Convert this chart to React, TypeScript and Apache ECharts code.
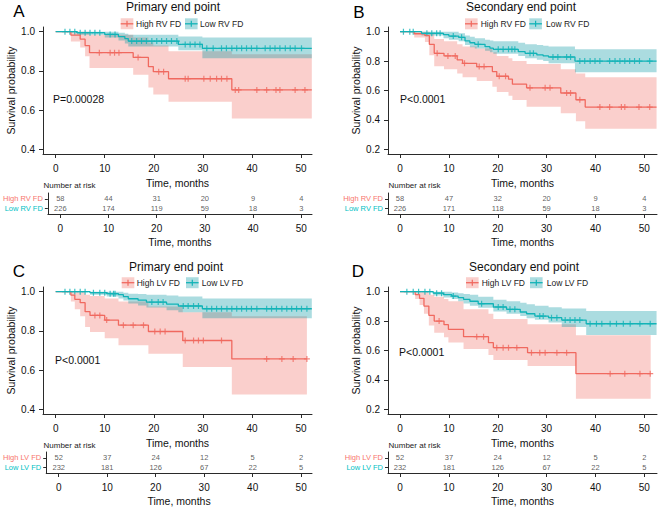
import React, { useEffect, useRef } from 'react';
import * as echarts from 'echarts';

// ---------- shared ticks ----------
const xTicks = [0, 10, 20, 30, 40, 50];
const yTicksPrimary = [0.4, 0.6, 0.8, 1.0];
const yTicksSecondary = [0.2, 0.4, 0.6, 0.8, 1.0];

// ---------- Panel A : Primary end point, RV FD ----------
const aHighTime = [0, 3.1, 5.0, 6.0, 6.9, 15.8, 18.9, 19.9, 23.0, 35.9, 52.2];
const aHighSurv = [1, 0.983, 0.962, 0.929, 0.893, 0.869, 0.822, 0.796, 0.76, 0.703, 0.703];
const aHighLower = [1, 0.95, 0.92, 0.875, 0.815, 0.78, 0.715, 0.68, 0.643, 0.557, 0.557];
const aHighUpper = [1, 1, 1, 1, 0.985, 0.97, 0.945, 0.93, 0.9, 0.885, 0.885];
const aHighCensor = [8.9, 11.1, 12.0, 12.9, 16.8, 21.0, 22.0, 26.4, 27.0, 30.2, 31.5, 32.8, 33.8, 34.9, 36.6, 37.3, 41.0, 43.0, 44.9, 45.7, 48.8, 50.8];
const aLowTime = [0, 4.3, 10.0, 12.8, 14.1, 14.8, 25.0, 29.9, 52.2];
const aLowSurv = [1, 0.995, 0.986, 0.975, 0.965, 0.952, 0.935, 0.915, 0.915];
const aLowLower = [1, 0.985, 0.97, 0.955, 0.94, 0.925, 0.905, 0.865, 0.865];
const aLowUpper = [1, 1, 1, 0.995, 0.99, 0.985, 0.975, 0.97, 0.97];
const aLowCensor = [1.9, 2.9, 3.9, 5.0, 6.0, 7.0, 8.0, 9.0, 11.1, 12.1, 15.5, 16.5, 17.5, 18.5, 19.6, 20.6, 21.6, 22.6, 23.6, 24.7, 26.4, 27.4, 28.4, 29.4, 30.8, 32.1, 33.8, 34.8, 35.9, 36.9, 37.9, 38.9, 39.9, 41.0, 42.7, 43.7, 44.7, 45.7, 46.8, 47.8, 48.8, 50.1];
const aRiskHigh = [58, 44, 31, 20, 9, 4];
const aRiskLow = [226, 174, 119, 59, 18, 3];

// ---------- Panel B : Secondary end point, RV FD ----------
const bHighTime = [0, 2.9, 5.1, 6.0, 7.0, 9.0, 11.7, 12.8, 15.7, 18.9, 19.8, 22.2, 23.0, 25.9, 32.9, 36.0, 37.9, 52.5];
const bHighSurv = [1, 0.986, 0.973, 0.914, 0.853, 0.835, 0.808, 0.785, 0.763, 0.729, 0.697, 0.677, 0.643, 0.618, 0.583, 0.537, 0.487, 0.487];
const bHighLower = [1, 0.96, 0.93, 0.84, 0.765, 0.745, 0.715, 0.69, 0.665, 0.625, 0.59, 0.565, 0.535, 0.49, 0.445, 0.39, 0.34, 0.34];
const bHighUpper = [1, 1, 1, 0.99, 0.95, 0.935, 0.915, 0.9, 0.885, 0.86, 0.835, 0.82, 0.8, 0.78, 0.745, 0.715, 0.69, 0.69];
const bHighCensor = [7.6, 9.8, 11.3, 13.2, 16.2, 17.2, 20.3, 21.6, 26.6, 29.7, 30.7, 34.1, 34.9, 36.8, 40.9, 42.9, 45.3, 46.0, 48.9, 51.1];
const bLowTime = [0, 4.4, 8.9, 10.0, 12.0, 13.3, 14.3, 15.3, 17.4, 18.4, 19.1, 24.2, 25.6, 28.0, 29.3, 30.4, 35.8, 52.5];
const bLowSurv = [1, 0.989, 0.98, 0.97, 0.962, 0.937, 0.925, 0.914, 0.898, 0.888, 0.88, 0.864, 0.853, 0.842, 0.835, 0.828, 0.8, 0.8];
const bLowLower = [1, 0.975, 0.955, 0.945, 0.935, 0.91, 0.895, 0.885, 0.87, 0.86, 0.85, 0.835, 0.82, 0.81, 0.8, 0.785, 0.725, 0.725];
const bLowUpper = [1, 1, 1, 1, 0.99, 0.975, 0.965, 0.955, 0.945, 0.94, 0.935, 0.925, 0.915, 0.91, 0.905, 0.9, 0.88, 0.88];
const bLowCensor = [0.7, 2.0, 2.7, 5.5, 6.5, 7.5, 8.2, 10.9, 12.6, 16.0, 20.1, 21.1, 22.2, 22.9, 23.5, 26.6, 27.3, 31.3, 32.3, 34.1, 34.9, 36.8, 37.8, 38.9, 39.9, 40.9, 42.9, 44.0, 45.0, 46.0, 47.0, 48.0, 49.0, 51.1];
const bRiskHigh = [58, 47, 32, 20, 9, 4];
const bRiskLow = [226, 171, 118, 59, 18, 3];

// ---------- Panel C : Primary end point, LV FD ----------
const cHighTime = [0, 3.1, 3.9, 5.0, 6.0, 7.0, 10.0, 12.8, 18.9, 25.9, 35.9, 51.2];
const cHighSurv = [1, 0.983, 0.961, 0.944, 0.898, 0.879, 0.855, 0.829, 0.797, 0.751, 0.657, 0.657];
const cHighLower = [1, 0.95, 0.91, 0.875, 0.82, 0.795, 0.762, 0.727, 0.683, 0.616, 0.475, 0.475];
const cHighUpper = [1, 1, 1, 1, 0.985, 0.978, 0.965, 0.95, 0.925, 0.895, 0.875, 0.875];
const cHighCensor = [8.0, 9.0, 10.4, 13.8, 15.8, 17.9, 20.2, 21.3, 22.3, 26.4, 28.1, 29.1, 30.1, 33.8, 43.0, 46.1, 48.4, 51.2];
const cLowTime = [0, 7.0, 10.4, 12.8, 13.8, 14.8, 16.8, 18.5, 22.6, 25.0, 29.9, 52.2];
const cLowSurv = [1, 0.995, 0.99, 0.985, 0.975, 0.964, 0.957, 0.947, 0.937, 0.927, 0.913, 0.913];
const cLowLower = [1, 0.985, 0.975, 0.965, 0.955, 0.94, 0.93, 0.92, 0.905, 0.895, 0.865, 0.865];
const cLowUpper = [1, 1, 1, 1, 0.995, 0.99, 0.988, 0.985, 0.98, 0.975, 0.965, 0.965];
const cLowCensor = [1.9, 2.9, 3.9, 5.0, 6.0, 7.7, 9.0, 10.0, 11.1, 11.8, 12.1, 19.6, 20.9, 21.9, 26.0, 27.0, 28.1, 29.1, 30.8, 31.8, 32.8, 33.8, 34.9, 35.9, 36.9, 37.9, 38.9, 39.9, 41.0, 43.0, 44.0, 45.0, 46.1, 47.1, 48.1, 49.1, 50.1, 51.2];
const cRiskHigh = [52, 37, 24, 12, 5, 2];
const cRiskLow = [232, 181, 126, 67, 22, 5];

// ---------- Panel D : Secondary end point, LV FD ----------
const dHighTime = [0, 3.1, 4.0, 4.9, 5.9, 7.0, 9.0, 9.9, 13.0, 18.1, 19.1, 26.1, 36.0, 51.3];
const dHighSurv = [1, 0.98, 0.955, 0.902, 0.839, 0.8, 0.776, 0.744, 0.694, 0.653, 0.619, 0.585, 0.442, 0.442];
const dHighLower = [1, 0.95, 0.91, 0.85, 0.77, 0.72, 0.69, 0.655, 0.61, 0.57, 0.535, 0.494, 0.272, 0.272];
const dHighUpper = [1, 1, 1, 1, 0.98, 0.965, 0.95, 0.935, 0.88, 0.85, 0.815, 0.778, 0.703, 0.703];
const dHighCensor = [8.0, 15.7, 17.1, 19.8, 21.1, 22.2, 23.9, 26.9, 28.6, 29.7, 32.1, 34.1, 43.0, 46.0, 49.1, 51.2];
const dLowTime = [0, 6.8, 8.9, 10.6, 11.9, 13.0, 14.3, 16.0, 19.1, 21.8, 24.6, 25.9, 27.6, 30.4, 33.1, 38.1, 52.5];
const dLowSurv = [1, 0.99, 0.98, 0.97, 0.96, 0.948, 0.935, 0.918, 0.896, 0.88, 0.862, 0.85, 0.834, 0.823, 0.807, 0.782, 0.782];
const dLowLower = [1, 0.975, 0.96, 0.95, 0.935, 0.92, 0.905, 0.89, 0.865, 0.85, 0.835, 0.82, 0.81, 0.79, 0.76, 0.705, 0.705];
const dLowUpper = [1, 1, 1, 0.995, 0.99, 0.985, 0.98, 0.965, 0.945, 0.935, 0.925, 0.915, 0.905, 0.895, 0.885, 0.868, 0.868];
const dLowCensor = [1.4, 2.7, 3.8, 5.1, 6.1, 7.5, 8.5, 10.9, 16.7, 20.1, 21.1, 22.5, 23.5, 28.6, 29.3, 31.0, 32.1, 33.8, 34.8, 35.8, 36.8, 38.9, 40.2, 41.3, 43.0, 44.3, 45.7, 47.1, 49.1, 51.2];
const dRiskHigh = [52, 37, 24, 12, 5, 2];
const dRiskLow = [232, 181, 126, 67, 22, 5];

// ---------- panel content ----------
const panels = [
  { letter: 'A', title: 'Primary end point', pval: 'P=0.00028', highName: 'High RV FD', lowName: 'Low RV FD', yTicks: yTicksPrimary,
    high: { time: aHighTime, surv: aHighSurv, lower: aHighLower, upper: aHighUpper, censor: aHighCensor },
    low: { time: aLowTime, surv: aLowSurv, lower: aLowLower, upper: aLowUpper, censor: aLowCensor },
    riskHigh: aRiskHigh, riskLow: aRiskLow },
  { letter: 'B', title: 'Secondary end point', pval: 'P<0.0001', highName: 'High RV FD', lowName: 'Low RV FD', yTicks: yTicksSecondary,
    high: { time: bHighTime, surv: bHighSurv, lower: bHighLower, upper: bHighUpper, censor: bHighCensor },
    low: { time: bLowTime, surv: bLowSurv, lower: bLowLower, upper: bLowUpper, censor: bLowCensor },
    riskHigh: bRiskHigh, riskLow: bRiskLow },
  { letter: 'C', title: 'Primary end point', pval: 'P<0.0001', highName: 'High LV FD', lowName: 'Low LV FD', yTicks: yTicksPrimary,
    high: { time: cHighTime, surv: cHighSurv, lower: cHighLower, upper: cHighUpper, censor: cHighCensor },
    low: { time: cLowTime, surv: cLowSurv, lower: cLowLower, upper: cLowUpper, censor: cLowCensor },
    riskHigh: cRiskHigh, riskLow: cRiskLow },
  { letter: 'D', title: 'Secondary end point', pval: 'P<0.0001', highName: 'High LV FD', lowName: 'Low LV FD', yTicks: yTicksSecondary,
    high: { time: dHighTime, surv: dHighSurv, lower: dHighLower, upper: dHighUpper, censor: dHighCensor },
    low: { time: dLowTime, surv: dLowSurv, lower: dLowLower, upper: dLowUpper, censor: dLowCensor },
    riskHigh: dRiskHigh, riskLow: dRiskLow },
];

// ---------- layout (pixels) ----------
const layout = [
  { left: 43, xMin: -2.58, xMax: 52.24, mainTop: 27, riskTop: 193, yMin: 0.376, yMax: 1.024,
    letterPos: [19, 11], titlePos: [173, 7], pvalPos: [53, 99], nrPos: [43.5, 185],
    leg: { cy: 23.8, hx: 120.7, htx: 136, lx: 185, ltx: 200 } },
  { left: 388, xMin: -2.46, xMax: 52.59, mainTop: 27, riskTop: 193, yMin: 0.168, yMax: 1.032,
    letterPos: [359, 12], titlePos: [521, 7], pvalPos: [400, 99], nrPos: [388.5, 185],
    leg: { cy: 23.8, hx: 465, htx: 480.7, lx: 529.3, ltx: 546 } },
  { left: 43, xMin: -2.58, xMax: 52.24, mainTop: 287, riskTop: 452, yMin: 0.376, yMax: 1.024,
    letterPos: [19, 271], titlePos: [176, 267], pvalPos: [55, 360], nrPos: [43.5, 445],
    leg: { cy: 282.7, hx: 121.7, htx: 136.7, lx: 186, ltx: 201.7 } },
  { left: 388, xMin: -2.46, xMax: 52.59, mainTop: 287, riskTop: 452, yMin: 0.168, yMax: 1.032,
    letterPos: [358, 271], titlePos: [524, 267], pvalPos: [399, 352], nrPos: [388.5, 445],
    leg: { cy: 282.7, hx: 466, htx: 481.7, lx: 530, ltx: 546.7 } },
];

const FONT = '"Liberation Sans", Arial, Helvetica, sans-serif';
const RED = '#F0695F';
const TEAL = '#12B3B7';
const RED_TXT = '#F8766D';
const TEAL_TXT = '#00BFC4';
const RED_BAND = 'rgba(240,110,100,0.33)';
const TEAL_BAND = 'rgba(0,150,160,0.33)';
const AXIS = '#2a2a2a';
const PLUS = 'path://M4,0H6V4H10V6H6V10H4V6H0V4H4Z';

function survAt(g: any, t: number) {
  let s = g.surv[0];
  for (let i = 0; i < g.time.length; i++) if (g.time[i] <= t) s = g.surv[i];
  return s;
}

// step-shaped polygon (data coordinates) between lower and upper confidence limits
function bandPolygon(g: any): number[][] {
  const n = g.time.length;
  const up: number[][] = [];
  const lo: number[][] = [];
  for (let i = 0; i < n; i++) {
    up.push([g.time[i], g.upper[i]]);
    lo.push([g.time[i], g.lower[i]]);
    if (i < n - 1) {
      up.push([g.time[i + 1], g.upper[i]]);
      lo.push([g.time[i + 1], g.lower[i]]);
    }
  }
  return up.concat(lo.reverse());
}

function buildOption() {
  const grid: any[] = [];
  const xAxis: any[] = [];
  const yAxis: any[] = [];
  const series: any[] = [];
  const graphic: any[] = [];

  panels.forEach((P, k) => {
    const L = layout[k];
    const gi = 2 * k;
    const ri = 2 * k + 1;
    grid.push({ left: L.left, top: L.mainTop, width: 269, height: 127 });
    grid.push({ left: L.left, top: L.riskTop, width: 269, height: 21 });

    const xCommon = {
      type: 'value', min: L.xMin, max: L.xMax,
      axisLine: { show: true, onZero: false, lineStyle: { color: AXIS, width: 1 } },
      axisTick: { show: true, length: 4, customValues: xTicks, lineStyle: { color: AXIS, width: 1 } },
      axisLabel: { customValues: xTicks, fontSize: 10, color: '#111', margin: 9, fontFamily: FONT },
      splitLine: { show: false },
      name: 'Time, months', nameLocation: 'middle',
      nameTextStyle: { fontSize: 10.5, color: '#111', fontFamily: FONT },
    };
    xAxis.push({ ...xCommon, gridIndex: gi, nameGap: 23 });
    xAxis.push({ ...xCommon, gridIndex: ri, nameGap: 22 });

    yAxis.push({
      gridIndex: gi, type: 'value', min: L.yMin, max: L.yMax,
      axisLine: { show: true, onZero: false, lineStyle: { color: AXIS, width: 1 } },
      axisTick: { show: true, length: 4, customValues: P.yTicks, lineStyle: { color: AXIS, width: 1 } },
      axisLabel: { customValues: P.yTicks, fontSize: 10, color: '#111', margin: 8, fontFamily: FONT,
        formatter: (v: number) => v.toFixed(1) },
      splitLine: { show: false },
      name: 'Survival probability', nameLocation: 'middle', nameGap: 27,
      nameTextStyle: { fontSize: 10.5, color: '#111', fontFamily: FONT },
    });
    yAxis.push({
      gridIndex: ri, type: 'value', min: 0.35, max: 2.65,
      axisLine: { show: true, onZero: false, lineStyle: { color: AXIS, width: 1 } },
      axisTick: { show: true, length: 3, customValues: [1, 2], lineStyle: { color: AXIS, width: 1 } },
      axisLabel: {
        customValues: [1, 2], margin: 5, fontFamily: FONT,
        formatter: (v: number) => (v > 1.5 ? `{h|${P.highName}}` : `{l|${P.lowName}}`),
        rich: {
          h: { color: RED_TXT, fontSize: 7.5, fontFamily: FONT },
          l: { color: TEAL_TXT, fontSize: 7.5, fontFamily: FONT },
        },
      },
      splitLine: { show: false },
    });

    const groups = [
      { g: P.high, line: RED, band: RED_BAND },
      { g: P.low, line: TEAL, band: TEAL_BAND },
    ];
    // confidence bands (custom polygons through the axis scales)
    groups.forEach(({ g, band }) => {
      const poly = bandPolygon(g);
      series.push({
        type: 'custom', xAxisIndex: gi, yAxisIndex: gi, silent: true, clip: true,
        data: [[g.time[0], g.upper[0]]],
        renderItem: (_params: any, api: any) => ({
          type: 'polygon',
          shape: { points: poly.map((p) => api.coord(p)) },
          style: { fill: band },
        }),
      });
    });
    // survival curves
    groups.forEach(({ g, line }) => {
      series.push({
        type: 'line', xAxisIndex: gi, yAxisIndex: gi, step: 'end', symbol: 'none', silent: true,
        lineStyle: { color: line, width: 1.3 },
        data: g.time.map((t: number, i: number) => [t, g.surv[i]]),
      });
    });
    // censor marks
    groups.forEach(({ g, line }) => {
      series.push({
        type: 'scatter', xAxisIndex: gi, yAxisIndex: gi, symbol: PLUS, symbolSize: 6, silent: true,
        itemStyle: { color: line },
        data: g.censor.map((t: number) => [t, survAt(g, t)]),
      });
    });
    // risk table numbers
    [
      { vals: P.riskHigh, y: 2 },
      { vals: P.riskLow, y: 1 },
    ].forEach(({ vals, y }) => {
      series.push({
        type: 'scatter', xAxisIndex: ri, yAxisIndex: ri, symbolSize: 1, silent: true,
        itemStyle: { color: 'rgba(0,0,0,0)' },
        label: { show: true, position: 'inside', formatter: (p: any) => String(p.value[2]),
          fontSize: 7.5, color: '#333', fontFamily: FONT },
        data: xTicks.map((t, i) => [t, y, vals[i]]),
      });
    });

    // texts: letter, title, p-value, "Number at risk"
    const txt = (x: number, y: number, text: string, size: number, align: string, color = '#111') => ({
      type: 'text', x, y, silent: true,
      style: { text, fontSize: size, fontFamily: FONT, fill: color,
        align, verticalAlign: 'middle', textAlign: align, textVerticalAlign: 'middle' },
    });
    graphic.push(txt(L.letterPos[0], L.letterPos[1], P.letter, 17, 'center', '#000'));
    graphic.push(txt(L.titlePos[0], L.titlePos[1], P.title, 12, 'center'));
    graphic.push(txt(L.pvalPos[0], L.pvalPos[1], P.pval, 10.5, 'left'));
    graphic.push(txt(L.nrPos[0], L.nrPos[1], 'Number at risk', 8, 'left', '#222'));

    // legend
    const lg = L.leg;
    const legendItem = (bx: number, tx: number, band: string, line: string, name: string) => {
      const w = 12.6;
      graphic.push({ type: 'rect', silent: true, shape: { x: bx, y: lg.cy - 5.5, width: w, height: 11 }, style: { fill: band } });
      graphic.push({ type: 'line', silent: true, shape: { x1: bx, y1: lg.cy, x2: bx + w, y2: lg.cy }, style: { stroke: line, lineWidth: 1.3 } });
      graphic.push({ type: 'line', silent: true, shape: { x1: bx + w / 2, y1: lg.cy - 3, x2: bx + w / 2, y2: lg.cy + 3 }, style: { stroke: line, lineWidth: 1.2 } });
      graphic.push(txt(tx, lg.cy, name, 8.5, 'left', '#222'));
    };
    legendItem(lg.hx, lg.htx, RED_BAND, RED, P.highName);
    legendItem(lg.lx, lg.ltx, TEAL_BAND, TEAL, P.lowName);
  });

  return {
    animation: false,
    backgroundColor: '#ffffff',
    textStyle: { fontFamily: FONT },
    grid, xAxis, yAxis, series, graphic,
  };
}

export default function App() {
  const ref = useRef<HTMLDivElement>(null);
  useEffect(() => {
    if (!ref.current) return;
    const chart = echarts.init(ref.current, null, { renderer: 'svg' });
    chart.setOption(buildOption() as any);
    return () => chart.dispose();
  }, []);
  return (
    <div
      ref={ref}
      style={{ position: 'absolute', left: 0, top: 0, width: 658, height: 508, background: '#fff' }}
    />
  );
}
